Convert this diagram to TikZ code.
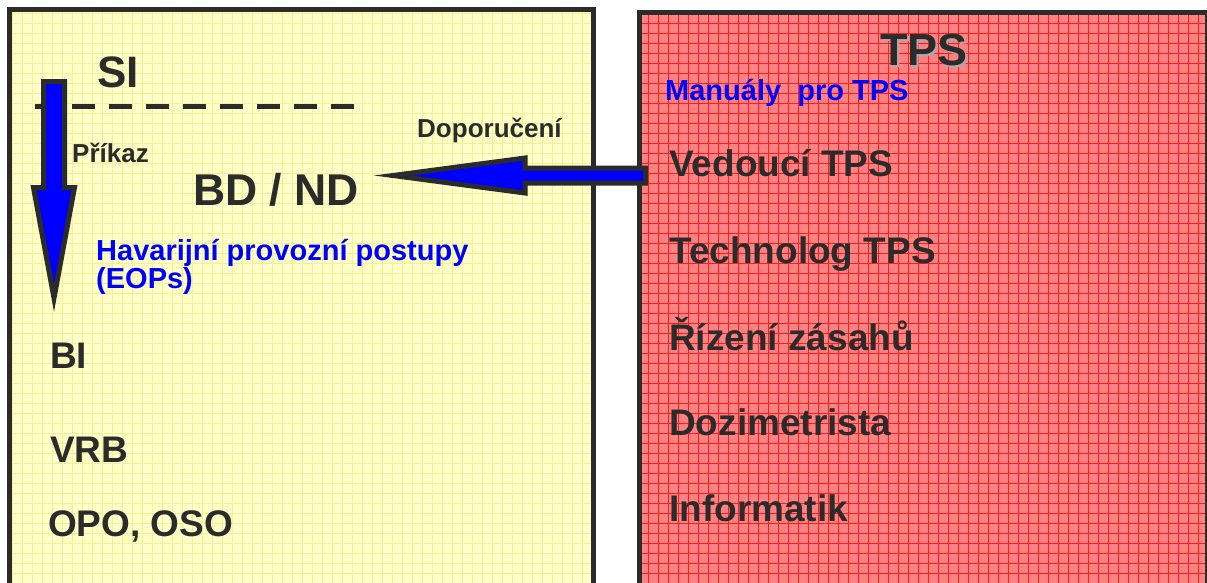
\documentclass[tikz,border=0pt]{standalone}
\usepackage{fontspec}
\setmainfont{Liberation Sans}
\definecolor{darkc}{RGB}{43,43,43}
\definecolor{yfill}{RGB}{255,255,200}
\definecolor{ygrid}{RGB}{245,240,150}
\definecolor{rfill}{RGB}{255,130,130}
\definecolor{rgrid}{RGB}{255,30,30}
\definecolor{bluec}{RGB}{0,0,255}
\definecolor{shadowc}{RGB}{170,170,170}
\newcommand{\fs}[2]{{\fontsize{#1}{#1}\selectfont\bfseries #2}}
\tikzset{
  txt/.style={anchor=base west, inner sep=0pt, text=darkc},
  btxt/.style={anchor=base west, inner sep=0pt, text=bluec},
  panel/.style={draw=darkc, line width=5pt},
  fatarrow/.style={draw=darkc, fill=bluec, line width=5pt, line join=miter},
}
\begin{document}
\begin{tikzpicture}[x=1pt,y=-1pt]
\useasboundingbox (0,0) rectangle (1207,582);
\clip (0,0) rectangle (1207,582);
% left panel
\fill[yfill] (9.5,9.5) rectangle (593,600);
\begin{scope}
\clip (9.5,9.5) rectangle (593,600);
\draw[ygrid, line width=0.6pt, xshift=2pt, yshift=-3pt] (0,0) grid[step=10pt] (600,610);
\end{scope}
\draw[panel] (9.5,9.5) rectangle (593,600);
% right panel
\fill[rfill] (639.5,12.5) rectangle (1207,600);
\begin{scope}
\clip (639.5,12.5) rectangle (1207,600);
\draw[rgrid, line width=1pt, xshift=8pt, yshift=-3pt] (630,0) grid[step=10pt] (1220,610);
\end{scope}
\draw[panel] (639.5,12.5) rectangle (1207.5,600);
% dashed line
\coordinate (dA) at (35,106);
\coordinate (dB) at (354,106);
\draw[darkc, line width=5pt, dash pattern=on 23pt off 14pt] (dA) -- (dB);
% down arrow (Příkaz)
\draw[fatarrow] (43.5,81.5) -- (64.5,81.5) -- (64.5,187.5) -- (74.5,187.5) -- (54,298) -- (33.5,187.5) -- (43.5,187.5) -- cycle;
% left arrow (Doporučení)
\draw[fatarrow] (645.5,168) -- (525,168) -- (525,158) -- (393,175.5) -- (525,193) -- (525,183) -- (645.5,183) -- cycle;
% texts left
\node[txt] (si) at (97,87) {\fs{44}{SI}};
\node[txt] (prikaz) at (72,162) {\fs{26}{Příkaz}};
\node[txt] (bdnd) at (193,205) {\fs{44.5}{BD / ND}};
\node[txt] (dop) at (417,137) {\fs{26}{Doporučení}};
\node[btxt] (hav) at (96,260) {\fs{29}{Havarijní provozní postupy}};
\node[btxt] (eops) at (96,288) {\fs{29}{(EOPs)}};
\node[txt] (bi) at (50,368) {\fs{37}{BI}};
\node[txt] (vrb) at (50,462) {\fs{37}{VRB}};
\node[txt] (opo) at (48,536) {\fs{37}{OPO, OSO}};
% texts right
\node[anchor=base west, inner sep=0pt, text=shadowc] at (882,67) {\fs{45}{TPS}};
\node[txt] (tps) at (880,65) {\fs{45}{TPS}};
\node[btxt] (man) at (665,100) {\fs{29}{Manuály\ \ pro TPS}};
\node[txt] (ved) at (669,176) {\fs{37}{Vedoucí TPS}};
\node[txt] (tech) at (669,263) {\fs{37}{Technolog TPS}};
\node[txt] (riz) at (669,350) {\fs{37}{Řízení zásahů}};
\node[txt] (doz) at (669,435) {\fs{37}{Dozimetrista}};
\node[txt] (inf) at (669,521) {\fs{37}{Informatik}};
\end{tikzpicture}
\end{document}
